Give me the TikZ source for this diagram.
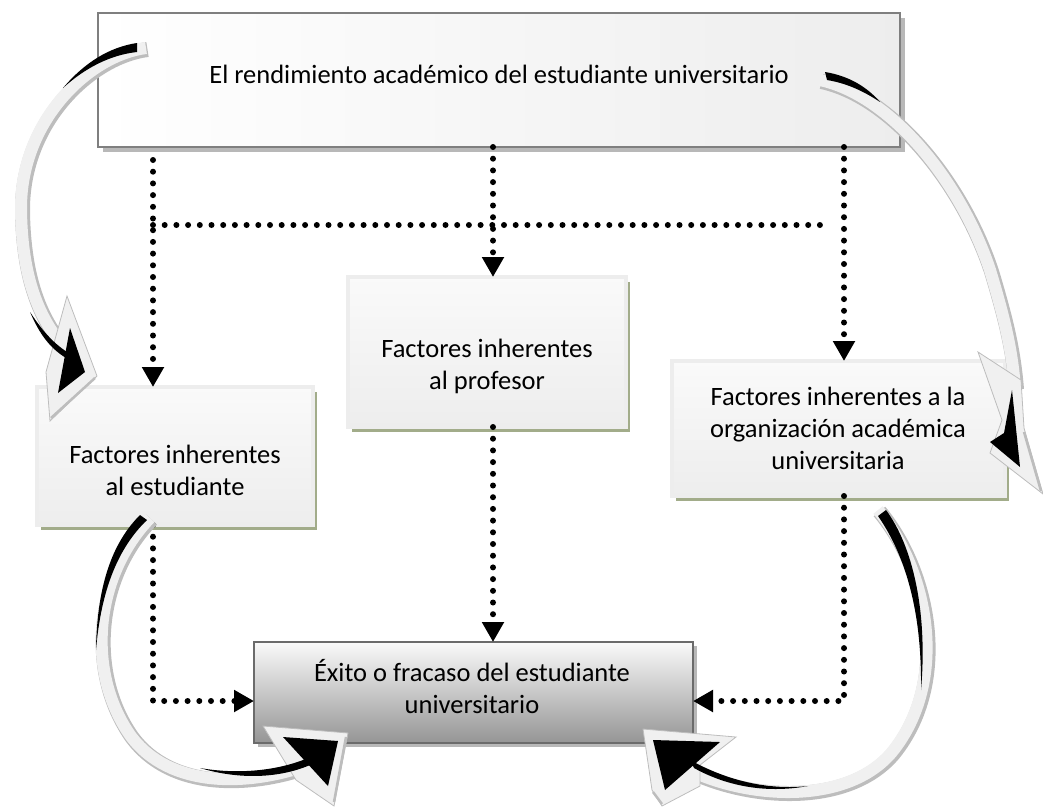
\documentclass[tikz,border=0pt]{standalone}
\usepackage{fontspec}
\setmainfont{Carlito}
\usetikzlibrary{arrows.meta,calc,backgrounds}
\definecolor{bandfill}{HTML}{F0F0F0}
\definecolor{bandedge}{HTML}{BDBDBD}
\definecolor{boxedge}{HTML}{7F7F7F}
\definecolor{grayshadow}{HTML}{B8B8B8}
\definecolor{greenshadow}{HTML}{A2AC8A}
\definecolor{exitodark}{HTML}{959595}

% centre lines of the four curved block arrows
\newcommand\bandA{(146,48) .. controls (90,55) and (20,120) .. (21,210) .. controls (22,280) and (40,318) .. (62,345)}
\newcommand\bandB{(820,80) .. controls (890,95) and (960,180) .. (990,270) .. controls (1005,320) and (1012,350) .. (1015,388)}
\newcommand\bandC{(150,518) .. controls (95,575) and (85,670) .. (130,735) .. controls (170,790) and (250,785) .. (305,766)}
\newcommand\bandD{(878,510) .. controls (928,570) and (950,680) .. (892,752) .. controls (850,802) and (760,800) .. (698,774)}

\begin{document}
\begin{tikzpicture}[x=1pt,y=-1pt,
  txt/.style={font=\fontsize{26.5}{32}\selectfont, align=center, inner sep=0pt, text=black},
  box/.style={rectangle, anchor=north west, inner sep=0pt, outer sep=0pt},
  mainbox/.style={box, draw=boxedge, line width=2.5pt, left color=white, right color=black!7},
  factorbox/.style={box, draw=white!93!black, line width=4pt, top color=white!98!black, bottom color=white!93!black},
  exitobox/.style={box, draw=black!58, line width=2.5pt, top color=white!98!black, bottom color=exitodark},
  dots/.style={line width=6pt, line cap=round, dash pattern=on 0pt off 11.7pt},
  darrow/.style={dots, -{Triangle[length=20pt,width=21pt]}},
  bandshade/.style={line width=15pt, draw=bandedge, shift={(1.5,1.5)}},
  band/.style={line width=12pt, draw=bandfill},
  headout/.style={fill=bandfill, draw=bandedge, line width=0.8pt, line join=miter},
  hatch/.style={draw=bandedge, line width=2.5pt},
  ink/.style={fill=black}
]
\useasboundingbox (0,0) rectangle (1043,807);

% boxes
\node[mainbox, minimum width=802pt, minimum height=134pt] (top) at (98,13) {};
\node[factorbox, minimum width=276pt, minimum height=138pt] (fs) at (37,387) {};
\node[factorbox, minimum width=278pt, minimum height=150pt] (fp) at (348,277) {};
\node[factorbox, minimum width=333pt, minimum height=135pt] (fo) at (672,361) {};
\node[exitobox, minimum width=439pt, minimum height=101pt] (ex) at (254,642) {};

% drop shadows
\begin{scope}[on background layer]
  \fill[grayshadow] ($(top.north west)+(5,5)$) rectangle ($(top.south east)+(5,5)$);
  \fill[greenshadow] ($(fs.north west)+(4,5)$) rectangle ($(fs.south east)+(4,5)$);
  \fill[greenshadow] ($(fp.north west)+(4,5)$) rectangle ($(fp.south east)+(4,5)$);
  \fill[greenshadow] ($(fo.north west)+(4,5)$) rectangle ($(fo.south east)+(4,5)$);
  \fill[grayshadow] ($(ex.north west)+(4,4)$) rectangle ($(ex.south east)+(4,4)$);
\end{scope}

% labels
\node[txt, anchor=base] (t-top) at (499,83) {El rendimiento académico del estudiante universitario};
\node[txt] (t-fs) at (175,470) {Factores inherentes\\al estudiante};
\node[txt] (t-fp) at (487,366) {Factores inherentes\\al profesor};
\node[txt] (t-fo) at (838,428) {Factores inherentes a la\\organización académica\\universitaria};
\node[txt] (t-ex) at (472,687) {Éxito o fracaso del estudiante\\universitario};

% dotted connectors
\coordinate (cl) at (153,160);
\coordinate (cm) at (493,147);
\coordinate (cr) at (844,147);
\coordinate (hl) at (153,225);
\coordinate (hr) at (823,225);
\coordinate (jl) at (153,701);
\coordinate (jr) at (844,701);

\draw[darrow] (cl) -- (cl |- fs.north);
\draw[dots] (hl) -- (hr);
\draw[darrow] (cm |- top.south) -- (cm |- fp.north);
\draw[darrow] (cr |- top.south) -- (cr |- fo.north);
\draw[darrow] (cl |- fs.south) -- (jl) -- (jl -| ex.west);
\draw[darrow] (cm |- fp.south) -- (cm |- ex.north);
\draw[darrow] (cr |- fo.south) -- (jr) -- (jr -| ex.east);

% curved arrow: top box -> student factors
\draw[bandshade] \bandA;
\draw[band] \bandA;
\draw[headout] (67,296) -- (97,376) -- (50,421) -- (46,372) -- cycle;
\draw[hatch] (51,418) -- (95,378);
\fill[ink] (63,88) .. controls (85,62) and (110,47) .. (137,43) -- (137,52) .. controls (110,55) and (85,68) .. cycle;
\fill[ink] (30,312) .. controls (40,335) and (50,348) .. (66,358) -- (67,352) .. controls (52,342) and (42,330) .. cycle;
\fill[ink] (70,328) -- (85,372) -- (58,393) -- cycle;

% curved arrow: top box -> organisation factors
\draw[bandshade] \bandB;
\draw[band] \bandB;
\draw[headout] (978,352) -- (1002,420) -- (990,453) -- (1043,494) -- (1024,428) -- (1021,380) -- cycle;
\draw[hatch] (1041,491) -- (1024,432);
\fill[ink] (825,72) .. controls (850,76) and (868,88) .. (880,102) .. controls (862,90) and (845,83) .. (827,80) -- cycle;
\fill[ink] (1012,390) -- (1020,467) -- (990,442) -- (1004,433) -- cycle;

% curved arrow: student factors -> outcome
\draw[bandshade] \bandC;
\draw[band] \bandC;
\draw[headout] (263,726) -- (348,733) -- (334,806) -- (296,780) -- cycle;
\draw[hatch] (346,737) -- (334,802);
\fill[ink] (140,515) .. controls (115,540) and (97,580) .. (96,650) .. controls (101,590) and (118,548) .. (147,520) -- cycle;
\fill[ink] (200,768) .. controls (240,775) and (280,770) .. (308,758) -- (310,765) .. controls (280,778) and (240,780) .. cycle;
\fill[ink] (283,737) -- (338,741) -- (328,786) -- cycle;

% curved arrow: organisation factors -> outcome
\draw[bandshade] \bandD;
\draw[band] \bandD;
\draw[headout] (643,729) -- (736,737) -- (700,765) -- (700,786) -- (662,806) -- (652,790) -- cycle;
\draw[hatch] (653,792) -- (662,804);
\fill[ink] (878,516) .. controls (905,555) and (922,610) .. (921,690) .. controls (928,610) and (912,545) .. (886,510) -- cycle;
\fill[ink] (808,786) .. controls (770,790) and (730,782) .. (690,760) -- (694,768) .. controls (730,788) and (770,793) .. cycle;
\fill[ink] (653,740) -- (720,742) -- (665,790) -- cycle;
\end{tikzpicture}
\end{document}
